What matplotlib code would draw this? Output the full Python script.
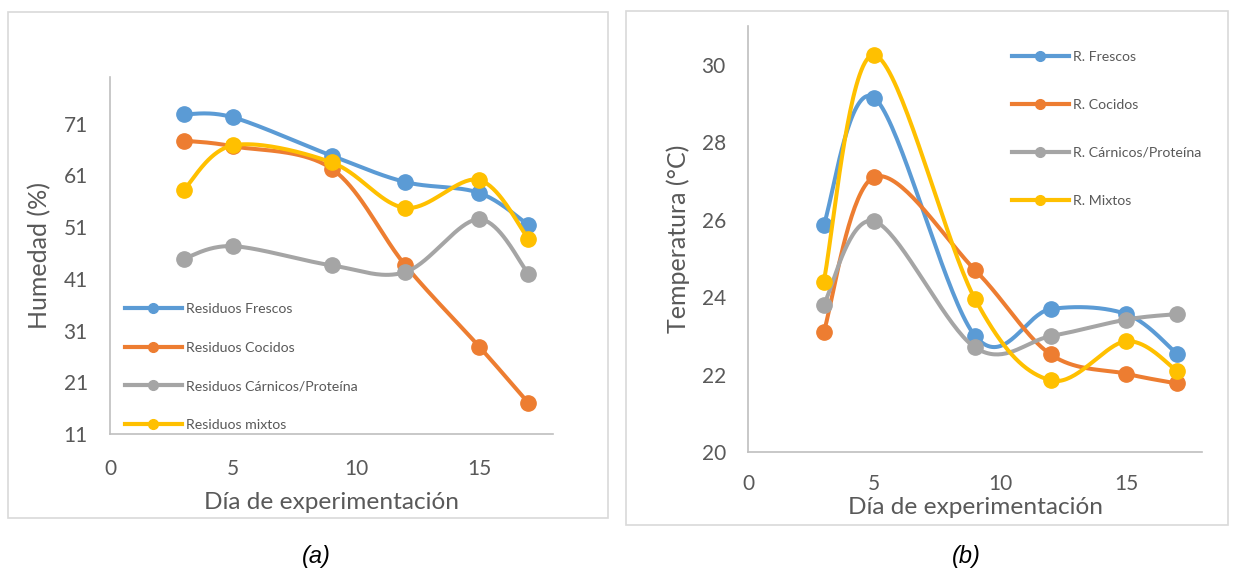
import matplotlib
matplotlib.use("Agg")
import matplotlib.pyplot as plt
from matplotlib.lines import Line2D
from matplotlib.patches import Rectangle
import numpy as np

plt.rcParams['font.family'] = ['Lato', 'DejaVu Sans']

text_color = "#595959"
axis_color = "#BFBFBF"
colors = ["#5B9BD5", "#ED7D31", "#A5A5A5", "#FFC000"]

# day of measurement
dias = [3, 5, 9, 12, 15, 17]

# (a) humedad (%)
hum_frescos = [72.8, 72.2, 64.8, 59.7, 57.6, 51.4]
hum_cocidos = [67.7, 66.6, 62.3, 43.6, 27.9, 17.0]
hum_carnicos = [44.9, 47.3, 43.6, 42.3, 52.5, 42.0]
hum_mixtos = [58.2, 66.8, 63.5, 54.7, 60.1, 48.7]
labels_a = ["Residuos Frescos", "Residuos Cocidos",
            "Residuos Cárnicos/Proteína", "Residuos mixtos"]

# (b) temperatura (°C)
tmp_frescos = [25.86, 29.15, 23.0, 23.69, 23.56, 22.54]
tmp_cocidos = [23.09, 27.1, 24.7, 22.52, 22.02, 21.77]
tmp_carnicos = [23.8, 25.96, 22.7, 22.99, 23.42, 23.56]
tmp_mixtos = [24.4, 30.25, 23.95, 21.85, 22.86, 22.1]
labels_b = ["R. Frescos", "R. Cocidos", "R. Cárnicos/Proteína", "R. Mixtos"]


def smooth(x, y, n=40):
    # Bezier curve through the points, spreadsheet-style smoothed line
    p = np.column_stack([x, y]).astype(float)
    ext = np.vstack([p[0], p, p[-1]])
    t = np.linspace(0, 1, n)[:, None]
    out = []
    for i in range(len(p) - 1):
        p0, p1 = ext[i + 1], ext[i + 2]
        c1 = p0 + (ext[i + 2] - ext[i]) / 6
        c2 = p1 - (ext[i + 3] - ext[i + 1]) / 6
        seg = ((1 - t) ** 3) * p0 + 3 * ((1 - t) ** 2) * t * c1 \
            + 3 * (1 - t) * t ** 2 * c2 + t ** 3 * p1
        out.append(seg if i == 0 else seg[1:])
    out = np.vstack(out)
    return out[:, 0], out[:, 1]


def draw_series(ax, series):
    for k, (vals, c) in enumerate(zip(series, colors)):
        sx, sy = smooth(dias, vals)
        ax.plot(sx, sy, color=c, lw=2.9, zorder=3 + k, solid_capstyle='round')
        ax.plot(dias, vals, 'o', color=c, ms=11, zorder=3 + k)


def style_axes(ax):
    for side in ['top', 'right']:
        ax.spines[side].set_visible(False)
    for side in ['left', 'bottom']:
        ax.spines[side].set_color(axis_color)
        ax.spines[side].set_linewidth(1.2)
    ax.tick_params(length=0, labelsize=15, labelcolor=text_color)
    ax.set_xlim(0, 18)
    ax.set_xticks([0, 5, 10, 15])


def legend(ax, labels, anchor, loc, spacing):
    handles = [Line2D([], [], color=c, lw=3, marker='o', ms=7) for c in colors]
    leg = ax.legend(handles, labels, loc=loc, bbox_to_anchor=anchor,
                    bbox_transform=fig.transFigure, frameon=False,
                    fontsize=10.2, labelcolor=text_color, handlelength=4,
                    handletextpad=0.3, labelspacing=spacing,
                    borderpad=0, borderaxespad=0)
    leg.set_zorder(10)


fig = plt.figure(figsize=(12.4, 5.76), dpi=100)

# panel frames
for x0, y0, x1, y1 in [(8, 12, 608, 518), (626, 11, 1228, 525)]:
    fig.patches.append(Rectangle((x0 / 1240, 1 - y1 / 576), (x1 - x0) / 1240,
                                 (y1 - y0) / 576, transform=fig.transFigure,
                                 fill=False, edgecolor="#D9D9D9", lw=1.2))

# (a)
ax1 = fig.add_axes([110 / 1240, 1 - 434 / 576, 443 / 1240, 357 / 576])
style_axes(ax1)
draw_series(ax1, [hum_frescos, hum_cocidos, hum_carnicos, hum_mixtos])
ax1.set_ylim(11, 80)
ax1.set_yticks([11, 21, 31, 41, 51, 61, 71])
ax1.tick_params(axis='x', pad=18)
ax1.tick_params(axis='y', pad=16)
ax1.set_xlabel("Día de experimentación", fontsize=17.6, color=text_color)
ax1.set_ylabel("Humedad (%)", fontsize=18, color=text_color)
ax1.xaxis.set_label_coords(0.5, -0.163)
ax1.yaxis.set_label_coords(-0.133, 0.5)
legend(ax1, labels_a, (125 / 1240, 1 - 431 / 576), 'lower left', 1.88)

# (b)
ax2 = fig.add_axes([748 / 1240, 1 - 452 / 576, 454 / 1240, 426 / 576])
style_axes(ax2)
draw_series(ax2, [tmp_frescos, tmp_cocidos, tmp_carnicos, tmp_mixtos])
ax2.set_ylim(20, 31)
ax2.set_yticks([20, 22, 24, 26, 28, 30])
ax2.tick_params(axis='x', pad=16)
ax2.tick_params(axis='y', pad=16)
ax2.set_xlabel("Día de experimentación", fontsize=17.6, color=text_color)
ax2.set_ylabel("Temperatura (°C)", fontsize=18, color=text_color)
ax2.xaxis.set_label_coords(0.5, -0.105)
ax2.yaxis.set_label_coords(-0.128, 0.5)
legend(ax2, labels_b, (1012 / 1240, 1 - 51 / 576), 'upper left', 2.53)

fig.text(316 / 1240, 1 - 557 / 576, "(a)", fontsize=17, style='italic',
         family='Liberation Sans', ha='center', va='center')
fig.text(966 / 1240, 1 - 557 / 576, "(b)", fontsize=17, style='italic',
         family='Liberation Sans', ha='center', va='center')

fig.savefig("out.png", dpi=100)
